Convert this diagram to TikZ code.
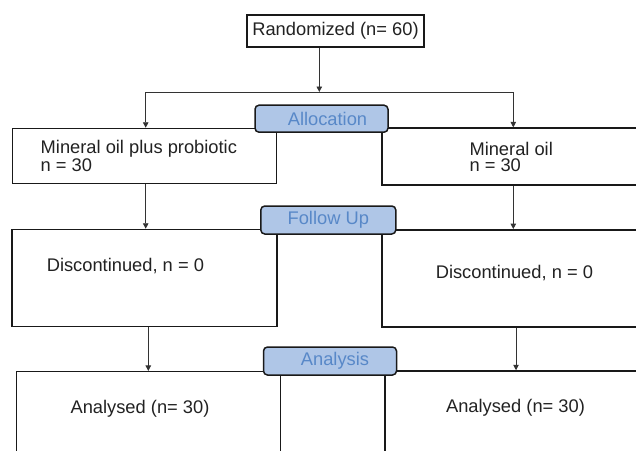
\documentclass[tikz,border=0pt]{standalone}
\usepackage{fontspec}
\setmainfont{Liberation Sans}
\usetikzlibrary{arrows.meta}
\definecolor{labfill}{RGB}{175,198,231}
\definecolor{labtext}{RGB}{88,136,200}
\definecolor{ink}{RGB}{34,34,34}
\begin{document}
\begin{tikzpicture}[x=1pt,y=-1pt,font=\fontsize{18.3}{16.5}\selectfont]
\useasboundingbox (0,0) rectangle (636,450);
\clip (0,0) rectangle (636,450);
\tikzset{mybox/.style={draw=black!90,line width=1.5pt,fill=white,inner sep=0pt,text=ink}};
\tikzset{mytext/.style={inner sep=0pt,text=ink}};
\tikzset{mylabel/.style={draw=black!90,line width=1.5pt,fill=labfill,text=labtext,rounded corners=4pt,inner sep=0pt}};
\tikzset{myline/.style={draw=black!80,line width=0.9pt}};
\tikzset{myarrow/.style={myline,-{Triangle[length=5.5pt,width=5.5pt]}}};

\node[mybox,minimum width=177,minimum height=32] (rand) at (335.5,31) {Randomized (n= 60)};
\node[mybox,minimum width=264,minimum height=55] (grpL) at (144.5,156) {};
\node[mybox,minimum width=263,minimum height=57] (grpR) at (513.5,156.6) {};
\node[mybox,minimum width=265,minimum height=97] (discL) at (144.6,278) {};
\node[mybox,minimum width=263,minimum height=97] (discR) at (513.6,278.3) {};
\node[mybox,minimum width=264,minimum height=100] (anaL) at (148.7,421.7) {};
\node[mybox,minimum width=265,minimum height=100] (anaR) at (517.5,421) {};

\node[mytext,align=left,anchor=north west] (grpLtxt) at (40.5,140.5) {Mineral oil plus probiotic\\n = 30};
\node[mytext,align=left,anchor=north west] (grpRtxt) at (469.3,142) {Mineral oil\\n = 30};
\node[mytext] (discLtxt) at (125.4,265.7) {Discontinued, n = 0};
\node[mytext] (discRtxt) at (514.4,272.7) {Discontinued, n = 0};
\node[mytext] (anaLtxt) at (140,408.3) {Analysed (n= 30)};
\node[mytext] (anaRtxt) at (515.5,407.3) {Analysed (n= 30)};

\coordinate (split) at (319.3,92);
\coordinate (colL) at (145.7,92);
\coordinate (colR) at (513.3,92);
\coordinate (colLL) at (148.3,0);
\coordinate (colRR) at (516,0);

\path (rand.south -| split) edge [myarrow] (split);
\path (colL) edge [myline] (colR);
\path (colL) edge [myarrow] (grpL.north -| colL);
\path (colR) edge [myarrow] (grpR.north -| colR);
\path (grpL.south -| colL) edge [myarrow] (discL.north -| colL);
\path (grpR.south -| colR) edge [myarrow] (discR.north -| colR);
\path (discL.south -| colLL) edge [myarrow] (anaL.north -| colLL);
\path (discR.south -| colRR) edge [myarrow] (anaR.north -| colRR);

\node[mylabel,minimum width=133,minimum height=27] (alloc) at (321.5,118.7) {\hspace{12pt}Allocation};
\node[mylabel,minimum width=135,minimum height=28] (fup) at (328.3,220) {Follow Up};
\node[mylabel,minimum width=133,minimum height=28] (analys) at (330,361) {\hspace{10pt}Analysis};
\end{tikzpicture}
\end{document}
